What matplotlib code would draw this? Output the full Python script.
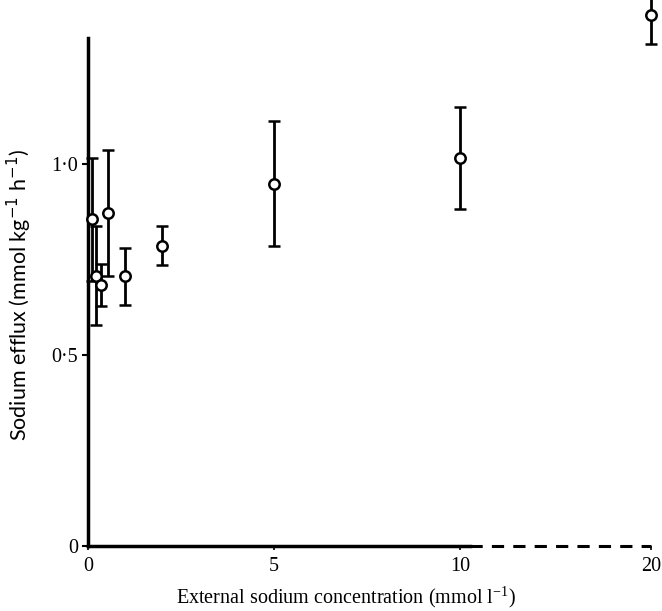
import numpy as np
import matplotlib
matplotlib.use("Agg")
import matplotlib.pyplot as plt

# Data
conc = [0.1, 0.22, 0.35, 0.55, 1.0, 2.0, 5.0, 10.0, 20.0]
efflux = [0.855, 0.708, 0.684, 0.873, 0.706, 0.786, 0.949, 1.016, 1.391]
err = [0.16, 0.13, 0.055, 0.165, 0.075, 0.051, 0.163, 0.133, 0.077]

xticks = [0, 5, 10, 20]
xticklabels = ["0", "5", "10", "20"]
yticks = [0, 0.5, 1.0]
yticklabels = ["0", "0·5", "1·0"]

BREAK = 10.0
SHRINK = 0.513


def fwd(x):
    x = np.asarray(x, dtype=float)
    return np.where(x <= BREAK, x, BREAK + (x - BREAK) * SHRINK)


def inv(x):
    x = np.asarray(x, dtype=float)
    return np.where(x <= BREAK, x, BREAK + (x - BREAK) / SHRINK)


plt.rcParams['font.family'] = ['Liberation Serif', 'DejaVu Serif']
plt.rcParams['mathtext.fontset'] = 'custom'
plt.rcParams['mathtext.rm'] = 'Liberation Serif'

W, H = 662, 611
fig = plt.figure(figsize=(W / 100, H / 100), dpi=100)
ax = fig.add_axes([88 / W, 1 - 546 / H, (651 - 88) / W, (546 - 38) / H])
ax.set_xscale('function', functions=(fwd, inv))
ax.set_xlim(0, 20)
ax.set_ylim(0, 1.33)

ax.errorbar(conc, efflux, yerr=err, fmt='o', color='black', mfc='white',
            mec='black', mew=1.8, ms=7.5, elinewidth=2.0, capsize=4.5,
            capthick=2.0, clip_on=False, zorder=5)

for s in ['top', 'right', 'bottom']:
    ax.spines[s].set_visible(False)
ax.spines['left'].set_linewidth(2.5)

ax.plot([0, 10.5], [0, 0], color='black', lw=2.5, clip_on=False, zorder=4)
ax.plot([10.5, 20], [0, 0], color='black', lw=2.2, ls=(0, (4, 3)),
        clip_on=False, zorder=4)

ax.set_xticks(xticks)
ax.set_xticklabels(xticklabels, fontsize=14.5)
ax.set_yticks(yticks)
ax.set_yticklabels(yticklabels, fontsize=14.5)
ax.tick_params(axis='x', direction='out', length=3, width=1.2, pad=5)
ax.tick_params(axis='y', direction='out', length=4, width=1.5, pad=3)

fig.text(346 / W, 1 - 597 / H,
         "External sodium concentration (mmol l$^{-1}$)",
         fontsize=14.5, ha='center', va='center')
fig.text(19 / W, 1 - 295 / H,
         "Sodium efflux (mmol kg$^{-1}$ h$^{-1}$)",
         fontsize=15.5, ha='center', va='center', rotation=90,
         family=['Lato', 'DejaVu Sans'],
         math_fontfamily='dejavusans')

fig.savefig("out.png", dpi=100)
